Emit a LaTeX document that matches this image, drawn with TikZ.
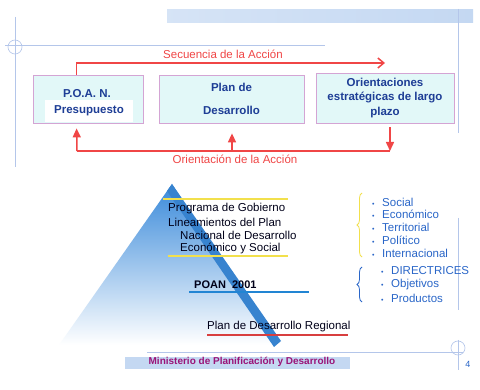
\documentclass[tikz,border=0pt]{standalone}
\usepackage{fontspec}
\setmainfont{Liberation Sans}
\usetikzlibrary{arrows.meta,decorations.pathreplacing}
\definecolor{guia}{HTML}{B4C6EA}
\definecolor{barra}{HTML}{C4D8F2}
\definecolor{cajafondo}{HTML}{E2F8F8}
\definecolor{cajaborde}{HTML}{D4A4D4}
\definecolor{cajatexto}{HTML}{1E3E96}
\definecolor{rojo}{HTML}{F04646}
\definecolor{piramide}{HTML}{3A8ADA}
\definecolor{piramidemedio}{HTML}{86B8EC}
\definecolor{amarillo}{HTML}{F2E04C}
\definecolor{azul}{HTML}{2A66C8}
\definecolor{morado}{HTML}{9A1478}

\begin{document}
\begin{tikzpicture}[x=1pt,y=-1pt]
	\tikzstyle{caja}=[draw=cajaborde,fill=cajafondo,line width=0.8pt,inner sep=0pt,
		font=\fontsize{11.5}{14.5}\selectfont\bfseries,text=cajatexto,align=center]
	\tikzstyle{linea}=[rojo,line width=1.5pt]
	\tikzstyle{flecha}=[linea,-{Straight Barb[length=6pt,width=10pt]}]
	\tikzstyle{flechallena}=[linea,-{Triangle[length=9pt,width=8pt]}]
	\tikzstyle{rotulo}=[text=rojo,font=\fontsize{11.5}{14}\selectfont]
	\tikzstyle{piratexto}=[anchor=west,inner sep=0pt,text=black!90!blue,font=\fontsize{11.5}{14}\selectfont]
	\tikzstyle{lista}=[anchor=west,inner sep=0pt,text=azul,font=\fontsize{11.5}{14}\selectfont]
	\newcommand{\vineta}{\makebox[10pt][l]{\fontsize{7}{7}\selectfont•}}
	\useasboundingbox (0,0) rectangle (480,390);
	\fill[white] (0,0) rectangle (480,390);
	% guias de la diapositiva
	\shade[left color=barra!70!white,right color=barra] (167,10) rectangle (473,23);
	\draw[guia,line width=0.6pt] (5,45) -- (325,45);
	\draw[guia,line width=0.6pt] (15,47) circle (7);
	\draw[guia,line width=0.6pt] (15,17) -- (15,167);
	\draw[guia,line width=0.6pt] (458,9) -- (458,133);
	\draw[guia,line width=0.6pt] (458,218) -- (458,310);
	\draw[guia,line width=0.6pt] (458,340) -- (458,370);
	\draw[guia,line width=0.6pt] (147,352) -- (463,352);
	\draw[guia,line width=0.6pt] (458,348) circle (7);
	% cajas
	\node [caja,minimum width=110pt,minimum height=48pt] (poan) at (88,99) {};
	\node [text=cajatexto,font=\fontsize{11.5}{14}\selectfont\bfseries] (poant) at (87,94) {P.O.A. N.};
	\node [fill=white,inner sep=0pt,minimum width=88pt,minimum height=22pt,text=cajatexto,font=\fontsize{11.5}{14}\selectfont\bfseries] (pres) at (89,111) {Presupuesto};
	\node [caja,minimum width=145pt,minimum height=48pt] (plan) at (231.5,99) {Plan de\\[8pt]Desarrollo};
	\node [caja,minimum width=138pt,minimum height=50pt] (orient) at (385,98) {Orientaciones\\estratégicas de largo\\plazo};
	% flechas
	\coordinate (secfin) at (385,63);
	\coordinate (ori1) at (77,151);
	\coordinate (ori2) at (232,151);
	\coordinate (ori3) at (390,151);
	\draw [flecha] ([xshift=44pt]poan.north west) |- (secfin);
	\draw [linea] (ori1) -- (ori3);
	\draw [flechallena] (ori1) -- ([xshift=44pt,yshift=-5pt]poan.south west);
	\draw [flechallena] (ori2) -- ([xshift=0.5pt,yshift=-10pt]plan.south);
	\draw [flechallena] ([xshift=5pt,yshift=-4pt]orient.south) -- (ori3);
	\node [rotulo] (sec) at (223,54) {Secuencia de la Acción};
	\node [rotulo] (ori) at (235,159) {Orientación de la Acción};
	% piramide
	\shade[top color=piramide,middle color=piramidemedio,bottom color=white] (172,184) -- (276,345) -- (59,345) -- cycle;
	\fill[piramide!95!black] (172,184) -- (281,341) -- (274,347) -- (167,191) -- cycle;
	\draw[amarillo,line width=1.2pt] (163,199) -- (288,199);
	\draw[amarillo,line width=1.2pt] (168,256) -- (288,256);
	\node [piratexto] (prog) at (168,209) {Programa de Gobierno};
	\node [piratexto] (lin) at (168,222) {Lineamientos del Plan};
	\node [piratexto] (nac) at (180,235) {Nacional de Desarrollo};
	\node [piratexto] (eco) at (180,248) {Económico y Social};
	\node [piratexto,font=\fontsize{11}{14}\selectfont\bfseries] (poan2) at (194,285) {POAN~ 2001};
	\draw[azul!80!cyan,line width=1.5pt] (189,292) -- (309,292);
	\node [piratexto] (reg) at (207,327) {Plan de Desarrollo Regional};
	\draw[rojo!90!black,line width=1.5pt] (207,335) -- (348,335);
	% listas
	\draw[amarillo,line width=0.8pt,decorate,decoration={brace,amplitude=5pt}] (362,257) -- (362,193);
	\foreach \t [count=\i] in {Social,Económico,Territorial,Político,Internacional}
		\node [lista] (la\i) at (372,202+12.8*\i-12.8) {\vineta\t};
	\draw[azul,line width=0.8pt,decorate,decoration={brace,amplitude=5pt}] (362,302) -- (362,267);
	\foreach \t [count=\i] in {DIRECTRICES,Objetivos,Productos}
		\node [lista] (lb\i) at (381,271+13.5*\i-13.5) {\vineta\t};
	% pie
	\fill[barra] (125,357) rectangle (350,369);
	\node [text=morado,font=\fontsize{10}{12}\selectfont\bfseries] (pie) at (242,362) {Ministerio de Planificación y Desarrollo};
	\node [text=azul,font=\fontsize{9}{10}\selectfont] (pag) at (468,364) {4};
\end{tikzpicture}
\end{document}
